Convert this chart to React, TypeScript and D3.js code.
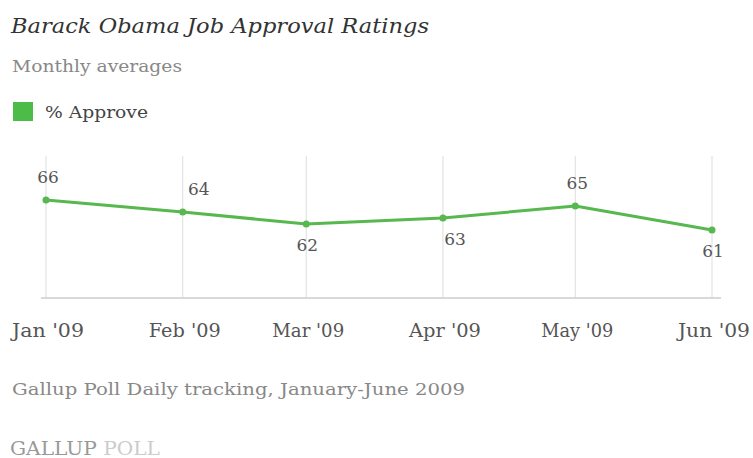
import React from "react";
import * as d3 from "d3";

const months = ["2009-01-01", "2009-02-01", "2009-03-01", "2009-04-01", "2009-05-01", "2009-06-01"];
const monthLabels = ["Jan '09", "Feb '09", "Mar '09", "Apr '09", "May '09", "Jun '09"];
const approve = [66, 64, 62, 63, 65, 61];
const labelPos = ["above", "above", "below", "below", "above", "below"];
const labelDx = [2, 16, 1, 12, 2, 1];

const W = 753;
const H = 458;
const FONT = "'DejaVu Serif', Georgia, serif";
const GREEN = "#56b84f";

export default function App() {
  const parse = d3.timeParse("%Y-%m-%d");
  const dates = months.map((m) => parse(m) as Date);
  const x = d3.scaleTime().domain([dates[0], dates[dates.length - 1]]).range([46, 712]);
  const y = d3.scaleLinear().domain([50, 75]).range([296, 146]);
  const line = d3
    .line<number>()
    .x((_, i) => x(dates[i]))
    .y((d) => y(d));

  return (
    <svg
      width={W}
      height={H}
      style={{ position: "absolute", left: 0, top: 0, background: "#fff" }}
      fontFamily={FONT}
    >
      <text x={11} y={33} fontSize={20} fontStyle="italic" fill="#333" textLength={418} lengthAdjust="spacingAndGlyphs">
        Barack Obama Job Approval Ratings
      </text>
      <text x={12} y={72} fontSize={17} fill="#888" textLength={170} lengthAdjust="spacingAndGlyphs">
        Monthly averages
      </text>
      <rect x={13} y={102} width={20} height={19} fill="#4cbb47" />
      <text x={45} y={118} fontSize={17} fill="#444" textLength={103} lengthAdjust="spacingAndGlyphs">
        % Approve
      </text>

      {dates.map((d, i) => (
        <line key={"g" + i} x1={x(d)} x2={x(d)} y1={156} y2={298} stroke="#ddd" strokeWidth={1} />
      ))}
      <line x1={41} x2={721} y1={298} y2={298} stroke="#ccc" strokeWidth={1.5} />

      <path d={line(approve) || ""} fill="none" stroke={GREEN} strokeWidth={3} strokeLinejoin="round" />
      {approve.map((v, i) => (
        <circle key={"c" + i} cx={x(dates[i])} cy={y(v)} r={3.5} fill={GREEN} />
      ))}
      {approve.map((v, i) => (
        <text
          key={"l" + i}
          x={x(dates[i]) + labelDx[i]}
          y={labelPos[i] === "above" ? y(v) - 17 : y(v) + 27}
          fontSize={17}
          textAnchor="middle"
          fill="#555"
        >
          {v}
        </text>
      ))}
      {monthLabels.map((m, i) => (
        <text key={"m" + i} x={x(dates[i]) + 2} y={337} fontSize={18} textAnchor="middle" fill="#555" textLength={72} lengthAdjust="spacingAndGlyphs">
          {m}
        </text>
      ))}

      <text x={12} y={395} fontSize={16} fill="#888" textLength={453} lengthAdjust="spacingAndGlyphs">
        Gallup Poll Daily tracking, January-June 2009
      </text>
      <text x={10} y={455} fontSize={18} fill="#999" textLength={150} lengthAdjust="spacingAndGlyphs">
        GALLUP
        <tspan fill="#ccc"> POLL</tspan>
      </text>
    </svg>
  );
}
